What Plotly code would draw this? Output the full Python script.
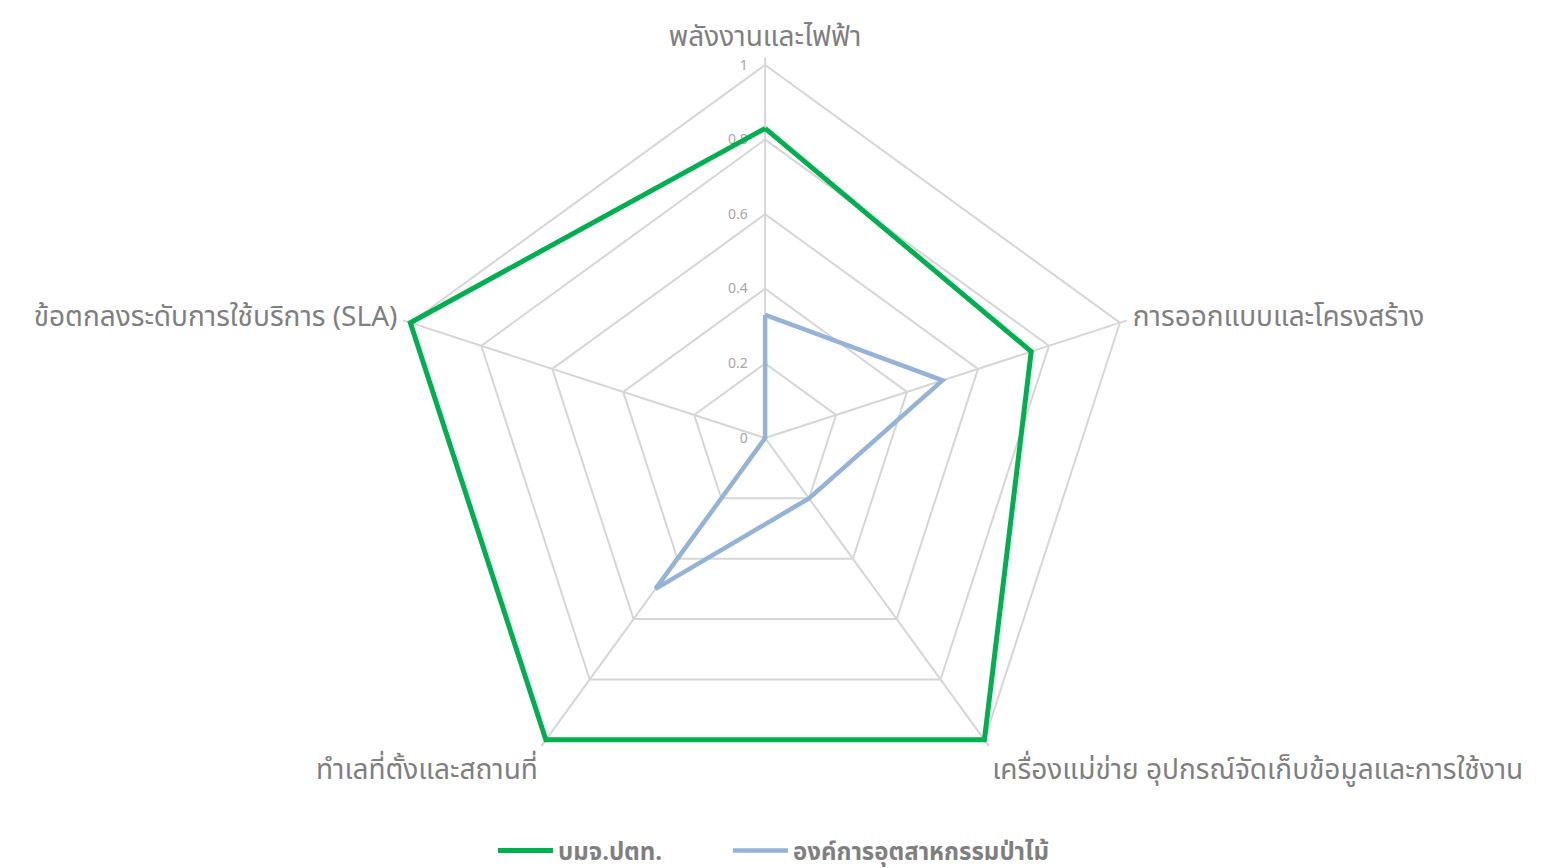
import plotly.graph_objects as go

categories = ["พลังงานและไฟฟ้า", "การออกแบบและโครงสร้าง",
              "เครื่องแม่ข่าย อุปกรณ์จัดเก็บข้อมูลและการใช้งาน",
              "ทำเลที่ตั้งและสถานที่", "ข้อตกลงระดับการใช้บริการ (SLA)"]
ptt = [0.83, 0.75, 1.0, 1.0, 1.0]
fio = [0.33, 0.5, 0.2, 0.5, 0.0]
series_names = ["บมจ.ปตท.", "องค์การอุตสาหกรรมป่าไม้"]
tick_vals = [0, 0.2, 0.4, 0.6, 0.8, 1]

FONT = "Noto Sans, Noto Sans Thai, DejaVu Sans, sans-serif"

fig = go.Figure()
fig.add_trace(go.Scatterpolar(r=ptt + ptt[:1], theta=categories + categories[:1],
                              mode="lines", name=series_names[0], cliponaxis=False,
                              legend="legend",
                              line=dict(color="#00b050", width=5)))
fig.add_trace(go.Scatterpolar(r=fio + fio[:1], theta=categories + categories[:1],
                              mode="lines", name=series_names[1], cliponaxis=False,
                              legend="legend2",
                              line=dict(color="#95b3d7", width=4.5)))

legend_font = dict(size=24, color="#7f7f7f", weight="bold")

fig.update_layout(
    width=1555, height=868,
    paper_bgcolor="white", plot_bgcolor="white",
    margin=dict(l=0, r=0, t=0, b=0),
    font=dict(family=FONT, color="#7f7f7f"),
    polar=dict(
        domain=dict(x=[0.2422, 0.7316], y=[0.0662, 0.9430]),
        gridshape="linear",
        bgcolor="rgba(0,0,0,0)",
        radialaxis=dict(range=[0, 1.02], tickvals=tick_vals, ticktext=[str(v) for v in tick_vals],
                        angle=90, tickangle=90, side="counterclockwise", showline=False,
                        gridcolor="#d6d6d6", gridwidth=1.5, layer="below traces",
                        tickfont=dict(size=14, color="#a6a6a6"),
                        ticks="outside", ticklen=12, tickcolor="rgba(0,0,0,0)"),
        angularaxis=dict(direction="clockwise", rotation=90, gridcolor="#d6d6d6", gridwidth=1.5,
                         showline=False, layer="below traces",
                         tickfont=dict(size=28, color="#7f7f7f"),
                         ticks="outside", ticklen=0, tickcolor="rgba(0,0,0,0)"),
    ),
    legend=dict(orientation="h", x=485 / 1555, xanchor="left", y=0.003, yanchor="bottom",
                font=legend_font, itemwidth=55),
    legend2=dict(orientation="h", x=720 / 1555, xanchor="left", y=0.003, yanchor="bottom",
                 font=legend_font, itemwidth=55),
    showlegend=True,
)

fig.write_html("out.html")
